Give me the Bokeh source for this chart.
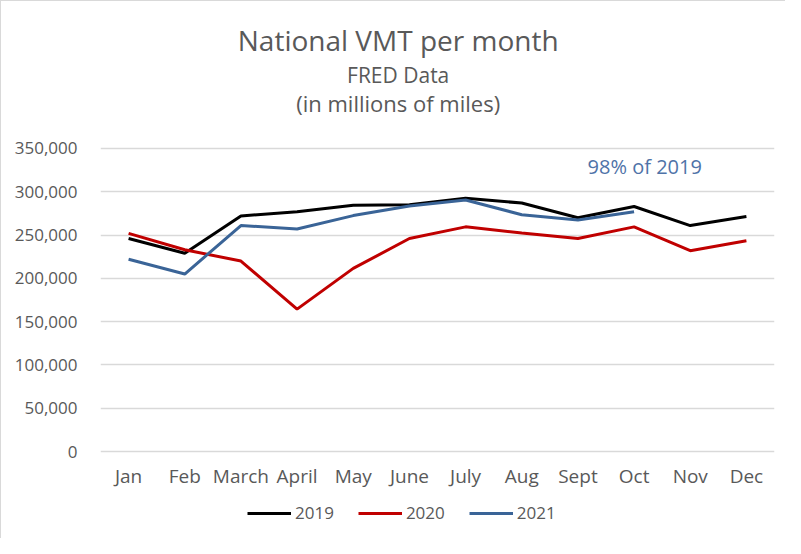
from bokeh.plotting import figure
from bokeh.models import (Label, Legend, LegendItem, FixedTicker, NumeralTickFormatter,
                          Range1d)
from bokeh.embed import file_html
from bokeh.resources import INLINE

months = ["Jan", "Feb", "March", "April", "May", "June", "July", "Aug", "Sept", "Oct", "Nov", "Dec"]
vmt_2019 = [246000, 229000, 272000, 277000, 284500, 285000, 292500, 287000, 270000, 283000, 261000, 271500]
vmt_2020 = [252000, 233000, 220000, 164500, 211500, 246000, 259500, 252500, 246000, 259500, 232000, 243500]
vmt_2021 = [222000, 205000, 261000, 257000, 272500, 283500, 290500, 273500, 267500, 277000]
y_ticks = [0, 50000, 100000, 150000, 200000, 250000, 300000, 350000]

FONT = "Open Sans"
GREY = "#595959"

xs = list(range(1, len(months) + 1))

# frame spans the whole height; y=0 sits 88px above the bottom, 350,000 sits 147px from the top
p = figure(width=785, height=538, output_backend="svg", toolbar_location=None,
           x_range=Range1d(0.5, 12.5), y_range=Range1d(-101650, 505940),
           min_border_left=99, min_border_right=12, min_border_top=12, min_border_bottom=0)

p.outline_line_color = None
p.styles = {"border-top": "1px solid #d9d9d9", "border-left": "1px solid #d9d9d9"}

r19 = p.line(xs, vmt_2019, line_color="#000000", line_width=3)
r20 = p.line(xs, vmt_2020, line_color="#c00000", line_width=3)
r21 = p.line(xs[:len(vmt_2021)], vmt_2021, line_color="#3a6497", line_width=3)

# y axis
p.yaxis.ticker = FixedTicker(ticks=y_ticks)
p.yaxis.formatter = NumeralTickFormatter(format="0,0")
p.yaxis.axis_line_color = None
p.yaxis.major_tick_line_color = None
p.yaxis.minor_tick_line_color = None
p.yaxis.major_tick_out = 0
p.yaxis.major_tick_in = 0
p.yaxis.minor_tick_out = 0
p.yaxis.major_label_standoff = 23
p.yaxis.major_label_text_font = FONT
p.yaxis.major_label_text_font_size = "17px"
p.yaxis.major_label_text_color = GREY

# x axis, pinned to y = 0
p.xaxis.fixed_location = 0
p.xaxis.ticker = FixedTicker(ticks=xs)
p.xaxis.major_label_overrides = {i: m for i, m in zip(xs, months)}
p.xaxis.axis_line_color = None
p.xaxis.major_tick_line_color = None
p.xaxis.minor_tick_line_color = None
p.xaxis.major_tick_out = 0
p.xaxis.major_tick_in = 0
p.xaxis.minor_tick_out = 0
p.xaxis.major_label_standoff = 11
p.xaxis.major_label_text_font = FONT
p.xaxis.major_label_text_font_size = "19px"
p.xaxis.major_label_text_color = GREY

p.xgrid.grid_line_color = None
p.ygrid.grid_line_color = "#d9d9d9"
p.ygrid.grid_line_width = 1.5

# titles
p.add_layout(Label(x=5.8, y=475500, text="National VMT per month", text_align="center",
                   text_baseline="middle", text_font=FONT, text_font_size="28px", text_color=GREY))
p.add_layout(Label(x=5.8, y=434800, text="FRED Data", text_align="center",
                   text_baseline="middle", text_font=FONT, text_font_size="21px", text_color=GREY))
p.add_layout(Label(x=5.8, y=402700, text="(in millions of miles)", text_align="center",
                   text_baseline="middle", text_font=FONT, text_font_size="22px", text_color=GREY))
p.add_layout(Label(x=10.19, y=329200, text="98% of 2019", text_align="center",
                   text_baseline="middle", text_font=FONT, text_font_size="20px", text_color="#4f73a8"))

legend = Legend(items=[LegendItem(label="2019", renderers=[r19]),
                       LegendItem(label="2020", renderers=[r20]),
                       LegendItem(label="2021", renderers=[r21])],
                orientation="horizontal", location=(147, 15),
                border_line_color=None, background_fill_alpha=0, padding=0, margin=0,
                label_text_font=FONT, label_text_font_size="17px", label_text_color=GREY,
                glyph_width=44, glyph_height=20, label_height=20,
                label_standoff=4, spacing=24)
p.add_layout(legend)

open("out.html", "w").write(file_html(p, INLINE))
